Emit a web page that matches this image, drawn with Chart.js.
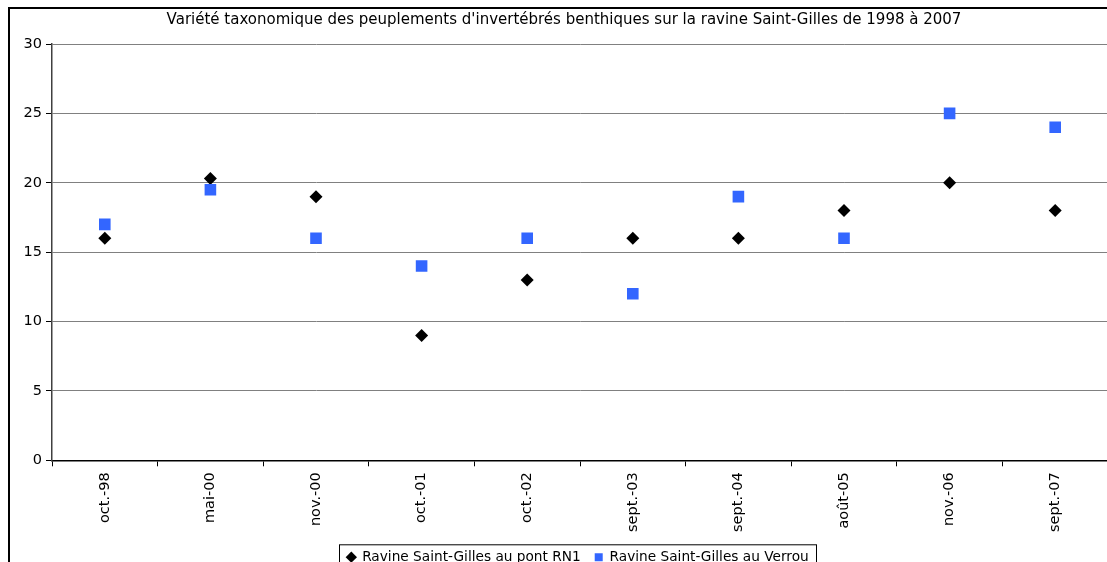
<!DOCTYPE html>
<html>
<head>
<meta charset="utf-8">
<script src="https://cdn.jsdelivr.net/npm/chart.js@4"></script>
<style>
  html, body { margin: 0; padding: 0; background: #fff; overflow: hidden; }
  #frame {
    position: absolute; left: 8px; top: 7px;
    border-left: 2px solid #000; border-top: 2px solid #000;
  }
  #myChart { display: block; }
</style>
</head>
<body>
<div id="frame"><canvas id="myChart" width="1110" height="565"></canvas></div>
<script>
// categories (dates of sampling)
const dates = ["oct.-98", "mai-00", "nov.-00", "oct.-01", "oct.-02", "sept.-03", "sept.-04", "août-05", "nov.-06", "sept.-07"];
// number of taxa
const pontRN1 = [16, 20.3, 19, 9, 13, 16, 16, 18, 20, 18];
const verrou = [17, 19.5, 16, 14, 16, 12, 19, 16, 25, 24];
const yTicks = [0, 5, 10, 15, 20, 25, 30];

const font = "'DejaVu Sans', Verdana, sans-serif";

// nudge title and legend sideways, and draw a box round the legend like excel does
const legendBox = {
  id: "legendBox",
  afterLayout(chart) {
    chart.titleBlock.left += 5;
    chart.titleBlock.right += 5;
    chart.legend.left += 19;
    chart.legend.right += 19;
  },
  afterDraw(chart) {
    const lg = chart.legend;
    const w = lg.lineWidths[0];
    const pad = lg.options.labels.padding;
    const x0 = (lg.left + pad + lg.right - w) / 2 - 8;
    const ctx = chart.ctx;
    ctx.save();
    ctx.strokeStyle = "#000";
    ctx.lineWidth = 1;
    ctx.strokeRect(Math.round(x0) + 0.5, lg.top + 8.5, Math.round(w - pad + 16), 40);
    ctx.restore();
  }
};

const ctx = document.getElementById("myChart").getContext("2d");

const chart = new Chart(ctx, {
  type: "line",
  data: {
    labels: dates,
    datasets: [
      {
        label: "Ravine Saint-Gilles au pont RN1",
        data: pontRN1,
        showLine: false,
        pointStyle: "rectRot",
        pointRadius: 6.5,
        pointBorderWidth: 0,
        backgroundColor: "#000000",
        borderColor: "#000000",
        order: 1
      },
      {
        label: "Ravine Saint-Gilles au Verrou",
        data: verrou,
        showLine: false,
        pointStyle: "rect",
        pointRadius: 8.2,
        pointBorderWidth: 0,
        backgroundColor: "#3366FF",
        borderColor: "#3366FF",
        order: 0
      }
    ]
  },
  options: {
    responsive: false,
    animation: false,
    layout: { padding: { left: 0, right: 12, top: 0, bottom: 0 } },
    plugins: {
      tooltip: { enabled: false },
      title: {
        display: true,
        text: "Variété taxonomique des peuplements d'invertébrés benthiques sur la ravine Saint-Gilles de 1998 à 2007",
        color: "#000",
        font: { family: font, size: 15, weight: "normal" },
        padding: { top: 2, bottom: 15 }
      },
      legend: {
        position: "bottom",
        labels: {
          color: "#000",
          font: { family: font, size: 13.7 },
          usePointStyle: true,
          boxWidth: 8,
          boxHeight: 8,
          padding: 14,
          sort: (a, b) => a.datasetIndex - b.datasetIndex
        }
      }
    },
    scales: {
      x: {
        offset: true,
        grid: { offset: true, drawOnChartArea: false, tickLength: 6, tickColor: "#000" },
        border: { color: "#000", width: 1.5 },
        ticks: { color: "#000", font: { family: font, size: 14.5 }, minRotation: 90, maxRotation: 90, padding: 6 },
        afterFit: scale => { scale.height = 76; }
      },
      y: {
        min: 0,
        max: 30,
        afterBuildTicks: scale => { scale.ticks = yTicks.map(v => ({ value: v })); },
        grid: { color: "#808080", tickLength: 6, tickColor: "#000" },
        border: { color: "#404040", width: 1.5 },
        ticks: { color: "#000", font: { family: font, size: 14.5 }, padding: 4 },
        afterFit: scale => { scale.width = 42; }
      }
    }
  },
  plugins: [legendBox]
});
</script>
</body>
</html>
